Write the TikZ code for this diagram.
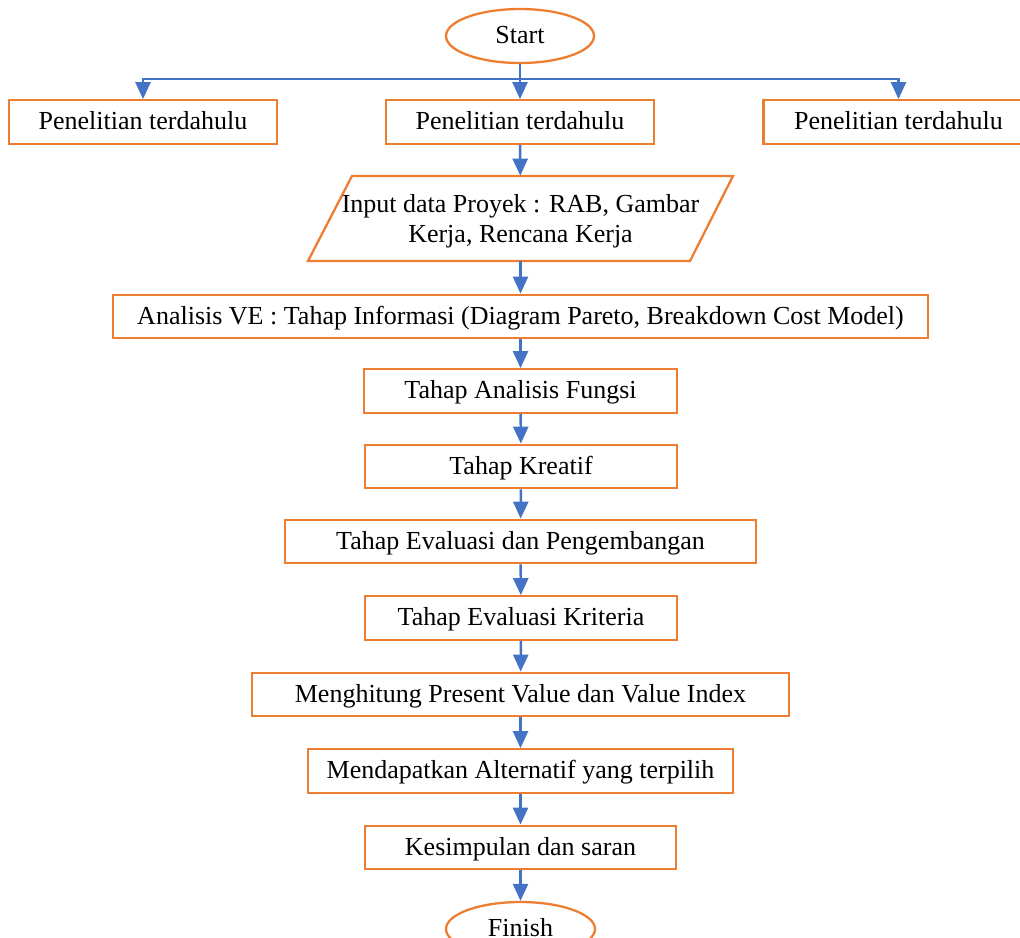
\documentclass[tikz,border=0pt]{standalone}
\usepackage{fontspec}
\setmainfont{Liberation Serif}
\usetikzlibrary{arrows.meta,shapes.geometric}
\definecolor{BoxOrange}{RGB}{237,125,49}
\definecolor{LineBlue}{RGB}{68,114,196}
\tikzset{
  boxfont/.style={inner sep=0pt, font=\fontsize{14.8}{17}\selectfont},
  stepbox/.style={boxfont, draw=BoxOrange, line width=1.3pt, fill=white, rectangle,
    minimum height=0.87cm, text height=0.38cm, text depth=0.08cm},
  termbox/.style={stepbox, ellipse, minimum width=2.96cm, minimum height=1.08cm},
  conn/.style={draw=LineBlue, line width=1.4pt,
    -{Triangle[width=0.3cm,length=0.34cm]}}
}

\begin{document}
\begin{tikzpicture}[x=0.02cm,y=-0.02cm]
          \useasboundingbox (0,0) rectangle (1020,937);
          % start and sources
          \node[termbox] (start) at (520,36) {Start};
          \coordinate (bar) at (520,79);
          \node[stepbox, minimum width=5.36cm] (pen1) at (143,122) {Penelitian terdahulu};
          \node[stepbox, minimum width=5.36cm] (pen2) at (520,122) {Penelitian terdahulu};
          \node[stepbox, minimum width=5.4cm] (pen3) at (898.5,122) {Penelitian terdahulu};
          % input
          \draw[draw=BoxOrange, line width=1.3pt] (308,261) -- (352,176) -- (733,176) -- (690,261) -- cycle;
          \node[boxfont, minimum height=1.7cm] (input) at (520.5,218.5)
            {\raisebox{-1.8pt}[\height][\depth]{\begin{tabular}{@{}c@{}}Input data Proyek : RAB, Gambar\\Kerja, Rencana Kerja\end{tabular}}};
          % steps
          \node[stepbox, minimum width=16.3cm] (info) at (520.5,316.5) {Analisis VE : Tahap Informasi (Diagram Pareto, Breakdown Cost Model)};
          \node[stepbox, minimum width=6.26cm] (fungsi) at (520.5,391) {Tahap Analisis Fungsi};
          \node[stepbox, minimum width=6.24cm] (kreatif) at (521,466.5) {Tahap Kreatif};
          \node[stepbox, minimum width=9.42cm] (evalp) at (520.5,541.5) {Tahap Evaluasi dan Pengembangan};
          \node[stepbox, minimum width=6.24cm] (kriteria) at (521,618) {Tahap Evaluasi Kriteria};
          \node[stepbox, minimum width=10.74cm] (hitung) at (520.5,694.5) {Menghitung Present Value dan Value Index};
          \node[stepbox, minimum width=8.5cm] (alter) at (520.5,771) {Mendapatkan Alternatif yang terpilih};
          \node[stepbox, minimum width=6.22cm] (simpul) at (520.5,847.5) {Kesimpulan dan saran};
          \node[termbox, minimum width=2.98cm] (finish) at (520.5,929) {Finish};
          % arrows
          \draw[conn] (start) -- (pen2);
          \draw[conn] (bar) -| (pen1);
          \draw[conn] (bar) -| (pen3);
          \draw[conn] (pen2) -- (input);
          \draw[conn] (input) -- (info);
          \draw[conn] (info) -- (fungsi);
          \draw[conn] (fungsi) -- (kreatif);
          \draw[conn] (kreatif) -- (evalp);
          \draw[conn] (evalp) -- (kriteria);
          \draw[conn] (kriteria) -- (hitung);
          \draw[conn] (hitung) -- (alter);
          \draw[conn] (alter) -- (simpul);
          \draw[conn] (simpul) -- (finish);
\end{tikzpicture}
\end{document}
